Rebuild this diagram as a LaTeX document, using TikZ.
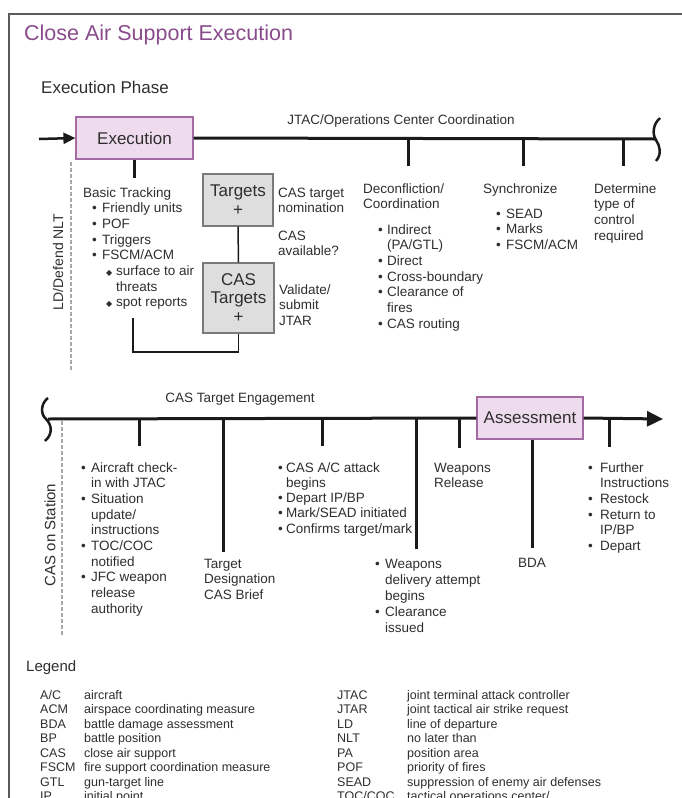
\documentclass[tikz,border=0pt]{standalone}
\usepackage{fontspec}
\setmainfont{Liberation Sans}
\newfontfamily\dejavu{DejaVu Sans}
\usetikzlibrary{arrows.meta}
\definecolor{txtc}{HTML}{2E2E2E}
\definecolor{ttlc}{HTML}{8A4B8C}
\definecolor{pfill}{HTML}{EEDCEE}
\definecolor{pdraw}{HTML}{A46AA4}
\definecolor{gfill}{HTML}{DEDEDE}
\definecolor{gdraw}{HTML}{7A7A7A}
\definecolor{dashc}{HTML}{A8A8A8}
\definecolor{frmc}{HTML}{5A5A5A}
\definecolor{linec}{HTML}{1A1A1A}
\newcommand\bfs{\fontsize{13.5}{15.7}\selectfont}
\newcommand\bux[1]{\makebox[#1][l]{\textbullet}}
\newcommand\dia{\makebox[10pt][l]{\raisebox{0.5pt}{\dejavu\fontsize{8}{8}\selectfont ◆}}}
\newcommand\TB[1]{\begin{tabular}[t]{@{}l@{}}#1\end{tabular}}
\tikzset{
  txt/.style={text=txtc, font=\bfs, inner sep=0pt, anchor=base west},
  tl/.style={draw=linec, line width=3pt},
  tk/.style={draw=linec, line width=3pt},
  phasebox/.style={draw=pdraw, fill=pfill, line width=1.2pt, font=\fontsize{17}{17}\selectfont, text=txtc, inner sep=0pt},
  tbox/.style={draw=gdraw, fill=gfill, line width=1.2pt, font=\fontsize{17}{18.5}\selectfont, text=txtc, align=center, inner sep=0pt},
  dline/.style={draw=dashc, line width=2pt, dash pattern=on 4pt off 2pt},
  leg/.style={text=txtc, font=\fontsize{12.5}{14.5}\selectfont, inner sep=0pt, anchor=base west},
  rot/.style={text=txtc, rotate=90, inner sep=0pt}
}
\begin{document}
\begin{tikzpicture}[x=1pt,y=-1pt]
\useasboundingbox (0,0) rectangle (681,798);
% frame
\draw[frmc, line width=1.5pt] (9,802) -- (9,14) -- (685,14);
% titles
\node[anchor=base west, inner sep=0pt, text=ttlc, font=\fontsize{21.5}{21.5}\selectfont] (title) at (24,40) {Close Air Support Execution};
\node[anchor=base west, inner sep=0pt, text=txtc, font=\fontsize{17}{17}\selectfont] (phase) at (41,93) {Execution Phase};

% ===== top timeline =====
\node[phasebox, minimum width=117pt, minimum height=42pt] (exec) at (134.5,138) {Execution};
\coordinate (arrst) at (39,139);
\draw[draw=linec, line width=2.5pt, -{Triangle[length=12pt,width=11pt]}] (arrst) -- (exec.west);
\coordinate (tlend) at (655,139);
\draw[tl] (exec.east) -- (tlend);
\draw[draw=linec, line width=2.5pt] (660,118) .. controls (653,124) and (652,134) .. (656,140) .. controls (660,146) and (662,154) .. (656,161);
\node[txt, anchor=base] (jtac) at (401,124) {JTAC/Operations Center Coordination};
\draw[tk] (exec.south -| 134,0) -- (134,178);
\draw[tk] (408,139) -- (408,166);
\draw[tk] (523,139) -- (523,166);
\draw[tk] (623,139) -- (623,166);

\node[txt] (basic) at (83,197) {\TB{Basic Tracking\\
\hspace*{9pt}\bux{10pt}Friendly units\\
\hspace*{9pt}\bux{10pt}POF\\
\hspace*{9pt}\bux{10pt}Triggers\\
\hspace*{9pt}\bux{10pt}FSCM/ACM\\
\hspace*{23pt}\dia surface to air\\
\hspace*{33pt}threats\\
\hspace*{23pt}\dia spot reports}};

\node[tbox, minimum width=70pt, minimum height=52pt] (tgt) at (238,200) {Targets\\+};
\node[tbox, minimum width=71pt, minimum height=70pt] (cas) at (238.5,298) {CAS\\Targets\\+};
\draw[draw=linec, line width=1.5pt] (tgt.south) -- (cas.north);
\coordinate (spot) at (133,318);
\draw[draw=linec, line width=1.5pt] (spot) -- (133,352) -| (cas.south);

\node[txt] (nom) at (278,197) {\TB{CAS target\\nomination}};
\node[txt] (avail) at (278,240) {\TB{CAS\\available?}};
\node[txt] (valid) at (279,294) {\TB{Validate/\\submit\\JTAR}};

\node[txt] (decon) at (363,193) {\TB{Deconfliction/\\Coordination}};
\node[txt] (deconl) at (378,234) {\TB{\bux{9pt}Indirect\\
\hspace*{9pt}(PA/GTL)\\
\bux{9pt}Direct\\
\bux{9pt}Cross-boundary\\
\bux{9pt}Clearance of\\
\hspace*{9pt}fires\\
\bux{9pt}CAS routing}};

\node[txt] (sync) at (483,193) {Synchronize};
\node[txt] (syncl) at (496,218) {\TB{\bux{10pt}SEAD\\\bux{10pt}Marks\\\bux{10pt}FSCM/ACM}};
\node[txt] (det) at (594,193) {\TB{Determine\\type of\\control\\required}};

\node[rot, font=\fontsize{14}{14}\selectfont] (ld) at (58,262) {LD/Defend NLT};
\coordinate (d1a) at (71,162);
\coordinate (d1b) at (71,370);
\draw[dline] (d1a) -- (d1b);

% ===== bottom timeline =====
\node[phasebox, minimum width=106pt, minimum height=42pt] (assess) at (530,418) {Assessment};
\coordinate (tl2st) at (48,419);
\coordinate (tl2end) at (663,419);
\draw[tl] (tl2st) -- (assess.west);
\draw[tl, -{Triangle[length=16pt,width=15pt]}] (assess.east) -- (tl2end);
\draw[draw=linec, line width=2.5pt] (48,398) .. controls (41,403) and (40,414) .. (46,419) .. controls (52,425) and (53,434) .. (45,441);
\node[txt, anchor=base] (eng) at (240,402) {CAS Target Engagement};
\draw[tk] (139,419) -- (139,446);
\draw[tk] (223,419) -- (223,552);
\draw[tk] (322,419) -- (322,446);
\draw[tk] (416,419) -- (416,549);
\draw[tk] (459,419) -- (459,448);
\draw[tk] (assess.south -| 532,0) -- (532,548);
\draw[tk] (609,419) -- (609,447);

\coordinate (d2a) at (62,421);
\coordinate (d2b) at (62,636);
\draw[dline] (d2a) -- (d2b);
\node[rot, font=\fontsize{15}{15}\selectfont] (onst) at (50,535) {CAS on Station};

\node[txt] (ac) at (81,472) {\TB{\bux{10pt}Aircraft check-\\
\hspace*{10pt}in with JTAC\\
\bux{10pt}Situation\\
\hspace*{10pt}update/\\
\hspace*{10pt}instructions\\
\bux{10pt}TOC/COC\\
\hspace*{10pt}notified\\
\bux{10pt}JFC weapon\\
\hspace*{10pt}release\\
\hspace*{10pt}authority}};
\node[txt] (tdes) at (204,568) {\TB{Target\\Designation\\CAS Brief}};
\node[txt, font=\fontsize{13.5}{15.3}\selectfont] (atk) at (278,472) {\TB{\bux{8pt}CAS A/C attack\\
\hspace*{8pt}begins\\
\bux{8pt}Depart IP/BP\\
\bux{8pt}Mark/SEAD initiated\\
\bux{8pt}Confirms target/mark}};
\node[txt, font=\fontsize{13.5}{16}\selectfont] (wpn) at (375,568) {\TB{\bux{10pt}Weapons\\
\hspace*{10pt}delivery attempt\\
\hspace*{10pt}begins\\
\bux{10pt}Clearance\\
\hspace*{10pt}issued}};
\node[txt] (wrel) at (434,472) {\TB{Weapons\\Release}};
\node[txt] (bda) at (518,567) {BDA};
\node[txt] (fur) at (588,472) {\TB{\bux{12pt}Further\\
\hspace*{12pt}Instructions\\
\bux{12pt}Restock\\
\bux{12pt}Return to\\
\hspace*{12pt}IP/BP\\
\bux{12pt}Depart}};

% ===== legend =====
\node[anchor=base west, inner sep=0pt, text=txtc, font=\fontsize{15}{15}\selectfont] (legend) at (26,671) {Legend};
\node[leg] (la) at (40,699) {\TB{A/C\\ACM\\BDA\\BP\\CAS\\FSCM\\GTL\\IP}};
\node[leg] (ld2) at (84,699) {\TB{aircraft\\airspace coordinating measure\\battle damage assessment\\battle position\\close air support\\fire support coordination measure\\gun-target line\\initial point}};
\node[leg] (ra) at (337,699) {\TB{JTAC\\JTAR\\LD\\NLT\\PA\\POF\\SEAD\\TOC/COC}};
\node[leg] (rd) at (407,699) {\TB{joint terminal attack controller\\joint tactical air strike request\\line of departure\\no later than\\position area\\priority of fires\\suppression of enemy air defenses\\tactical operations center/}};
\end{tikzpicture}
\end{document}
